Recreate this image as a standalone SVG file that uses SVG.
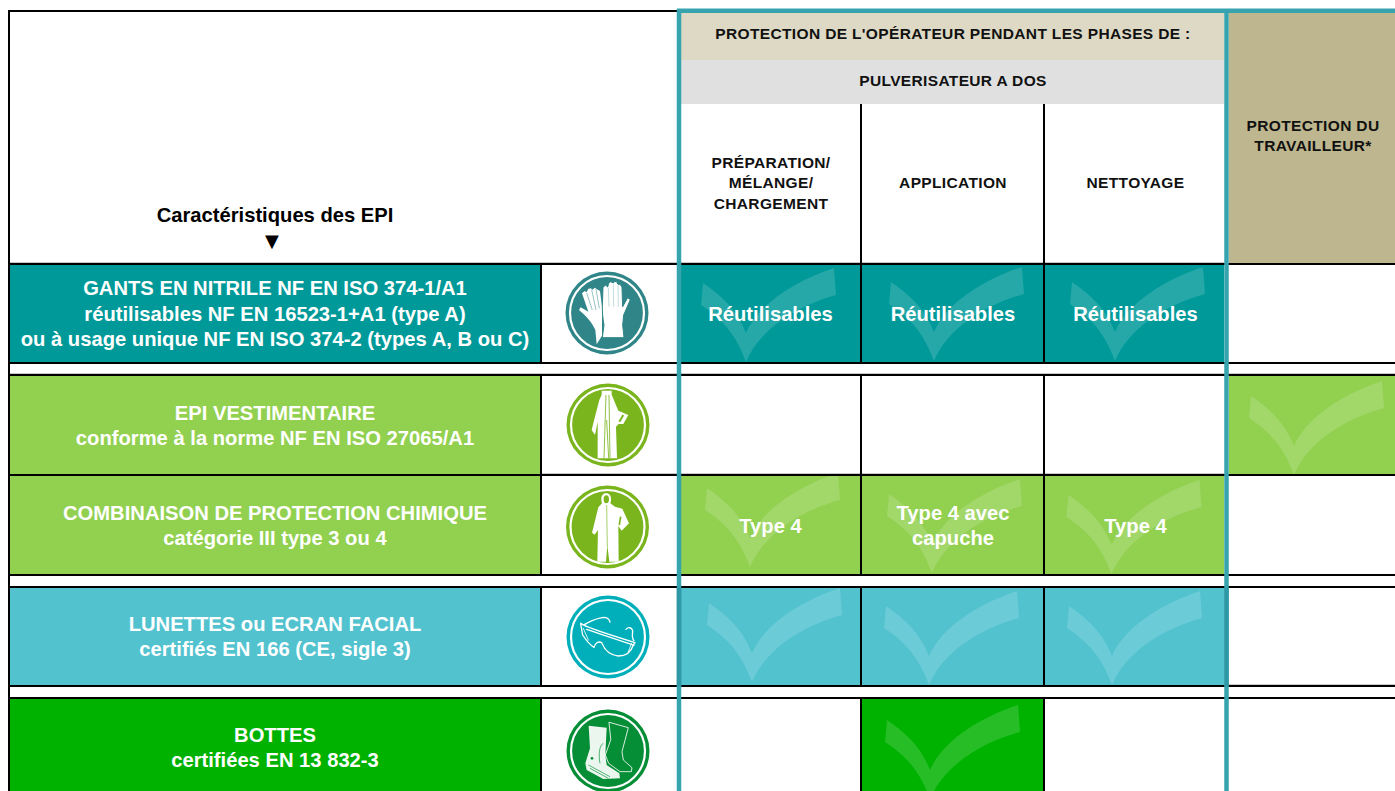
<svg xmlns="http://www.w3.org/2000/svg" xmlns:xlink="http://www.w3.org/1999/xlink" width="1395" height="791" viewBox="0 0 1395 791">
<style>
text{font-family:"Liberation Sans",Arial,sans-serif;font-weight:700;text-anchor:middle}
.h{font-size:15.5px;fill:#111;letter-spacing:.35px}
.t{font-size:20.2px;fill:#fff}
.c{font-size:20.2px;fill:#fff}
.b{stroke:#000;stroke-width:2;fill:none}
.g{stroke:#c8c8c8;stroke-width:1;fill:none}
.tl{stroke:#36A3AF;stroke-width:4.5;fill:none}
.tld{stroke:#2F98A6;stroke-width:4.5;fill:none}
.ck{fill:#fff;fill-opacity:.15}
.ring{fill:none;stroke:#fff;stroke-width:2.2}
.teal{fill:#009999}.green{fill:#92D050}.blue{fill:#52C2CF}.dark{fill:#00B200}
.w{fill:#fff}
.ln{fill:none;stroke:#fff;stroke-width:4;stroke-linejoin:round;stroke-linecap:round}
.lt{fill:none;stroke:#fff;stroke-width:2.5;stroke-linejoin:round;stroke-linecap:round}
</style>
<defs>
<path id="check" class="ck" d="M-43,-50C-24,-37 -9,-23 0,0C12,-28 48,-52 88,-65L90,-38C50,-27 14,-4 0,29C-6,14 -14,-8 -45,-28Z"/>
</defs>
<rect width="1395" height="791" fill="#fff"/>

<g id="header">
<rect x="681" y="13" width="543" height="47" fill="#DDD9C4"/>
<rect x="681" y="60" width="543" height="44" fill="#E0E0E0"/>
<rect x="1229" y="13" width="166" height="250" fill="#BDB68E"/>
<text class="h" x="953" y="39">PROTECTION DE L'OPÉRATEUR PENDANT LES PHASES DE :</text>
<text class="h" x="953" y="86">PULVERISATEUR A DOS</text>
<text class="h" x="771" y="168">PRÉPARATION/</text>
<text class="h" x="771" y="188">MÉLANGE/</text>
<text class="h" x="771" y="209">CHARGEMENT</text>
<text class="h" x="953" y="188">APPLICATION</text>
<text class="h" x="1135.500" y="188">NETTOYAGE</text>
<text class="h" x="1313" y="131">PROTECTION DU</text>
<text class="h" x="1313" y="151">TRAVAILLEUR*</text>
<text x="275" y="222" font-size="20.200" fill="#000">Caractéristiques des EPI</text>
<text x="272" y="247" font-size="18" fill="#000" style="font-family:'DejaVu Sans',sans-serif">▼</text>
</g>

<g id="row-gants">
<rect class="teal" x="10" y="265" width="530" height="98"/>
<rect class="teal" x="681" y="265" width="543" height="98"/>
<use href="#check" xlink:href="#check" x="746" y="333"/>
<use href="#check" xlink:href="#check" x="934" y="332"/>
<use href="#check" xlink:href="#check" x="1115" y="332"/>
<text class="t" x="275" y="295">GANTS EN NITRILE NF EN ISO 374-1/A1</text>
<text class="t" x="275" y="321">réutilisables NF EN 16523-1+A1 (type A)</text>
<text class="t" x="275" y="346">ou à usage unique NF EN ISO 374-2 (types A, B ou C)</text>
<text class="c" x="770.500" y="321">Réutilisables</text>
<text class="c" x="953" y="321">Réutilisables</text>
<text class="c" x="1135.500" y="321">Réutilisables</text>
<g id="icon-gants">
<circle cx="607" cy="313" r="41.500" fill="#2F8587"/><circle class="ring" cx="607" cy="313" r="37"/>
<g transform="translate(560 265) scale(.3333)">
<path class="w" d="M110,238L106,195C95,170 75,150 57,135L62,127L85,140L66,85L74,78L80,82L84,72L92,70L98,74L104,68L110,72L120,78L126,125L126,212Z"/>
<path d="M80,84L97,135M95,74L108,135M108,72L118,130" fill="none" stroke="#2F8587" stroke-width="1.500"/>
<path class="w" stroke="#2F8587" stroke-width="3" d="M127,218L132,180C128,160 127,140 127,125L129,68L136,60L143,66L146,55L152,50L160,54L163,50L170,50L174,58L180,58L186,66L188,125L203,98L211,104L191,150L188,180L192,218Z"/>
<path d="M145,68L147,125M160,58L161,125M174,60L175,125" fill="none" stroke="#2F8587" stroke-width="1.500" stroke-opacity=".6"/>
</g>
</g>
</g>

<g id="row-epi">
<rect class="green" x="10" y="376" width="530" height="98"/>
<rect class="green" x="1229" y="376" width="166" height="98"/>
<use href="#check" xlink:href="#check" x="1294" y="446"/>
<text class="t" x="275" y="420">EPI VESTIMENTAIRE</text>
<text class="t" x="275" y="445">conforme à la norme NF EN ISO 27065/A1</text>
<g id="icon-epi">
<circle cx="608" cy="425" r="41.500" fill="#7AB51D"/><circle class="ring" cx="608" cy="425" r="37"/>
<g transform="translate(560 380) scale(.3333)">
<path class="w" d="M125,32L155,32L155,44L175,92L205,105L190,132L176,132L168,140L171,235L113,235L113,125L105,165L95,150C100,130 110,90 118,60L125,44Z"/>
<path d="M138,45L132,235M147,45L150,235M140,120L146,235" fill="none" stroke="#7AB51D" stroke-width="2.500"/>
<path d="M190,105L178,125" fill="none" stroke="#7AB51D" stroke-width="6"/>
</g>
</g>
</g>

<g id="row-combinaison">
<rect class="green" x="10" y="476" width="530" height="98"/>
<rect class="green" x="681" y="476" width="543" height="98"/>
<use href="#check" xlink:href="#check" x="750" y="538"/>
<use href="#check" xlink:href="#check" x="932" y="544"/>
<use href="#check" xlink:href="#check" x="1111.500" y="545"/>
<text class="t" x="275" y="520">COMBINAISON DE PROTECTION CHIMIQUE</text>
<text class="t" x="275" y="545">catégorie III type 3 ou 4</text>
<text class="c" x="770.500" y="533">Type 4</text>
<text class="c" x="953" y="520">Type 4 avec</text>
<text class="c" x="953" y="545">capuche</text>
<text class="c" x="1135.500" y="533">Type 4</text>
<g id="icon-combinaison">
<circle cx="607.500" cy="527" r="41.500" fill="#7AB51D"/><circle class="ring" cx="607.500" cy="527" r="37"/>
<g transform="translate(530 470) scale(.3333)">
<path class="w" d="M216,100C210,80 218,70 229,70C240,70 247,82 241,100L255,110L277,116L297,160L275,182L265,168L266,275L238,275L232,225L228,275L202,275L204,180L194,194L186,188L198,140L205,112Z"/>
<ellipse cx="229" cy="88" rx="8" ry="12" fill="#7AB51D"/>
<path d="M230,105L232,230" fill="none" stroke="#7AB51D" stroke-width="2"/>
<path d="M272,140L268,165" fill="none" stroke="#7AB51D" stroke-width="5"/>
</g>
</g>
</g>

<g id="row-lunettes">
<rect class="blue" x="10" y="588" width="530" height="97"/>
<rect class="blue" x="681" y="588" width="543" height="97"/>
<use href="#check" xlink:href="#check" x="752" y="653"/>
<use href="#check" xlink:href="#check" x="929" y="656"/>
<use href="#check" xlink:href="#check" x="1112" y="656"/>
<text class="t" x="275" y="631">LUNETTES ou ECRAN FACIAL</text>
<text class="t" x="275" y="656">certifiés EN 166 (CE, sigle 3)</text>
<g id="icon-lunettes">
<circle cx="608" cy="637" r="41.500" fill="#00AFB9"/><circle class="ring" cx="608" cy="637" r="37"/>
<g transform="translate(560 590) scale(.3333)">
<path class="ln" d="M62,100C72,110 150,135 225,158M62,102L68,135C78,150 95,168 102,172C105,160 115,152 125,158C130,170 140,195 175,198C195,198 212,190 220,165L225,158M80,118C120,132 170,148 222,166"/>
<path class="ln" d="M72,104C90,95 105,85 130,82C140,82 148,88 150,96M198,118C205,110 215,112 218,122C218,132 214,145 222,152"/>
<path class="lt" d="M70,115L85,150M205,185L215,160"/>
</g>
</g>
</g>

<g id="row-bottes">
<rect class="dark" x="10" y="699" width="530" height="92"/>
<rect class="dark" x="861" y="699" width="183" height="92"/>
<use href="#check" xlink:href="#check" x="930" y="770"/>
<text class="t" x="275" y="742">BOTTES</text>
<text class="t" x="275" y="767">certifiées EN 13 832-3</text>
<g id="icon-bottes">
<circle cx="608" cy="751" r="41.500" fill="#068E37"/><circle class="ring" cx="608" cy="751" r="37"/>
<g transform="translate(560 705) scale(.3333)">
<path class="w" fill-opacity=".92" d="M86,62L140,68L136,150L140,180L178,205L180,220L130,222L80,195L76,175L90,130Z"/>
<path class="lt" d="M148,52L205,68L186,140L190,165L216,188L214,200L180,200L146,175L136,150L152,105Z"/>
<path d="M130,115C118,120 115,150 120,175M85,180L150,215M90,190L145,220" fill="none" stroke="#068E37" stroke-width="2"/>
<circle cx="96" cy="160" r="4" fill="#068E37"/>
</g>
</g>
</g>

<g id="connectors">
<path class="g" d="M10,262.500H679M681,262.500H1224M10,373.500H1395M541,473.500H679M681,473.500H1224M1229,684.500H1395"/>
<path class="b" d="M9,10V791M9,11H679"/>
<path class="b" d="M9,264H1395M9,363H1395M9,375H1395M9,475H1395M9,575H1395M9,587H1395M9,686H1395M9,698H1395"/>
<path class="b" d="M541,264V363M541,375V575M541,587V686M541,698V791"/>
<path class="b" d="M861,104V363M861,375V575M861,587V686M861,698V791"/>
<path class="b" d="M1044,104V363M1044,375V575M1044,587V686M1044,698V791"/>
<path class="tl" d="M677,10.700H1395M679,8.500V791M1226.500,8.500V791"/>
<path class="tld" d="M679,588V686M1226.500,588V686"/>
</g>
</svg>
